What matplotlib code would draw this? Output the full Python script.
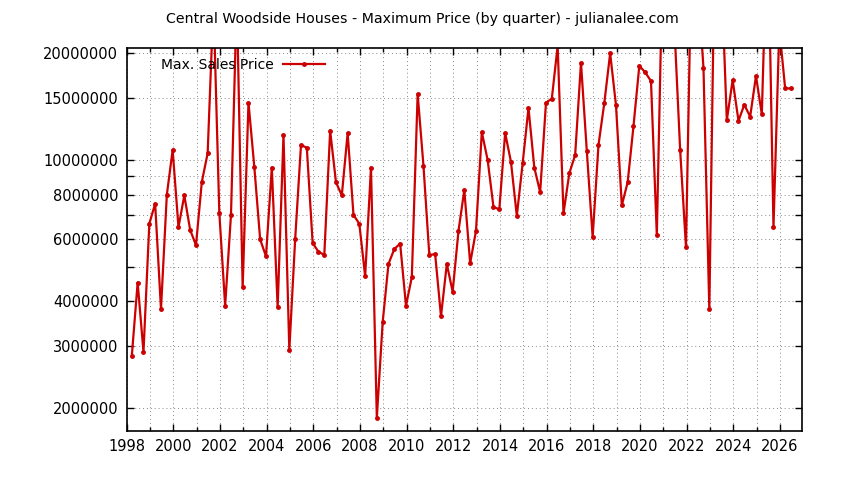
import numpy as np
import matplotlib
matplotlib.use("Agg")
import matplotlib.pyplot as plt
from matplotlib.ticker import FixedLocator, FuncFormatter, MultipleLocator

# max sale price per quarter, millions of dollars (points above 20.7M are clipped in the original)
start_year = 1998
max_price_m = [
    2.81, 4.52, 2.88, 6.62, 7.54, 3.80, 7.98, 10.68,
    6.47, 7.96, 6.36, 5.76, 8.68, 10.46, 28.0, 7.10,
    3.89, 7.01, 29.0, 4.38, 14.52, 9.57, 5.98, 5.36,
    9.53, 3.85, 11.78, 2.92, 5.98, 11.03, 10.84, 5.84,
    5.52, 5.41, 12.11, 8.66, 7.96, 11.93, 7.01, 6.62,
    4.71, 9.53, 1.88, 3.49, 5.10, 5.62, 5.82, 3.89,
    4.68, 15.36, 9.63, 5.40, 5.44, 3.63, 5.10, 4.26,
    6.32, 8.24, 5.12, 6.32, 12.00, 10.01, 7.38, 7.27,
    11.93, 9.88, 6.97, 9.80, 14.03, 9.53, 8.12, 14.52,
    14.90, 21.0, 7.08, 9.18, 10.34, 18.82, 10.61, 6.07,
    11.03, 14.49, 20.0, 14.28, 7.46, 8.66, 12.46, 18.45,
    17.68, 16.71, 6.14, 37.0, 30.0, 24.0, 10.68, 5.68,
    43.0, 32.0, 18.18, 3.80, 50.0, 36.0, 12.95, 16.82,
    12.91, 14.33, 13.26, 17.26, 13.47, 50.0, 6.47, 23.5,
    15.93, 15.93,
]

ytick_major = [2000000, 3000000, 4000000, 6000000, 8000000, 10000000, 15000000, 20000000]
ytick_minor = [5000000, 7000000, 9000000]

prices = np.array(max_price_m) * 1e6
n = len(prices)
years = start_year + np.arange(n) // 4
qtr = np.arange(n) % 4
x = years + qtr * 0.25 + 0.22

fig = plt.figure(figsize=(8.44, 4.8), dpi=100)
ax = fig.add_axes([0.1501, 0.1021, 0.7998, 0.7979])

ax.plot(x, prices, color="#cc0000", lw=1.6, marker="o", markersize=2.5,
        label="Max. Sales Price")

ax.set_yscale("log")
ax.set_ylim(1.726e6, 20.7e6)
ax.set_xlim(1998, 2026.93)

ax.yaxis.set_major_locator(FixedLocator(ytick_major))
ax.yaxis.set_minor_locator(FixedLocator(ytick_minor))
ax.yaxis.set_major_formatter(FuncFormatter(lambda v, p: "%d" % round(v)))
ax.yaxis.set_minor_formatter(FuncFormatter(lambda v, p: ""))
ax.xaxis.set_major_locator(MultipleLocator(2))
ax.xaxis.set_minor_locator(MultipleLocator(1))

for which in ("major", "minor"):
    ax.grid(True, which=which, color="#888888", lw=0.7, linestyle=(0, (1, 3)))
ax.tick_params(which="both", direction="in", top=True, right=True,
               labelsize=10.5, width=1, colors="black")
ax.tick_params(which="major", length=5, pad=6)
ax.tick_params(which="minor", length=3)
ax.tick_params(axis="y", which="minor", length=5)
for s in ax.spines.values():
    s.set_linewidth(1.2)

ax.legend(loc="upper left", bbox_to_anchor=(0.037, 0.999), markerfirst=False,
          frameon=False, handlelength=3.0, handletextpad=0.65, fontsize=10,
          borderaxespad=0.3)

fig.text(0.5, 0.96, "Central Woodside Houses - Maximum Price (by quarter) - julianalee.com",
         ha="center", va="center", fontsize=10.2)

fig.savefig("out.png", dpi=100)
